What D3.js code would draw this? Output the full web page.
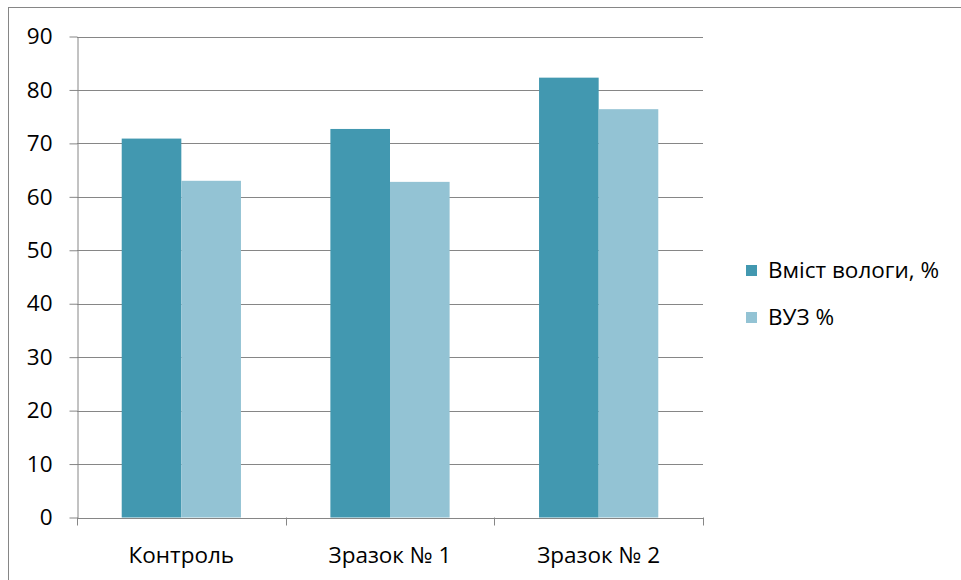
<!DOCTYPE html>
<html><head><meta charset="utf-8">
<script src="https://cdn.jsdelivr.net/npm/d3@7"></script>
<style>body{margin:0;background:#fff}svg{display:block}text{font-family:"Open Sans",sans-serif;fill:#000}</style>
</head><body><svg id="c" width="961" height="580"></svg>
<script>
const categories = ["Контроль", "Зразок № 1", "Зразок № 2"];
const seriesNames = ["Вміст вологи, %", "ВУЗ %"];
const moisture = [70.9, 72.7, 82.3];
const vuz = [63.0, 62.8, 76.4];
const yTicks = [0, 10, 20, 30, 40, 50, 60, 70, 80, 90];
const colors = ["#4298b0", "#93c3d4"];

const svg = d3.select("#c");
const mLeft = 77, mRight = 703, mTop = 36.5, mBottom = 517.5;
const fs = "22.5px";
svg.append("rect").attr("x", 8.5).attr("y", 7.5).attr("width", 1000).attr("height", 1000)
  .attr("fill", "none").attr("stroke", "#868686").attr("stroke-width", 1);

const x = d3.scaleBand().domain(categories).range([mLeft, mRight]).padding(0);
const y = d3.scaleLinear().domain([0, 90]).range([mBottom, mTop]);
const bw = x.bandwidth() / 3.5;
const series = [moisture, vuz];

// gridlines
svg.append("g").selectAll("line").data(yTicks.filter(d => d > 0)).join("line")
  .attr("x1", mLeft).attr("x2", mRight)
  .attr("y1", d => Math.round(y(d)) + 0.5).attr("y2", d => Math.round(y(d)) + 0.5)
  .attr("stroke", "#868686").attr("stroke-width", 1.2);

// bars
series.forEach((vals, si) => {
  svg.append("g").selectAll("rect").data(categories).join("rect")
    .attr("x", (c) => x(c) + x.bandwidth() / 2 - bw + si * bw)
    .attr("width", bw)
    .attr("y", (c, i) => y(vals[i]))
    .attr("height", (c, i) => y(0) - y(vals[i]))
    .attr("fill", colors[si]);
});

// y axis
const yAxis = svg.append("g").attr("transform", `translate(${mLeft + 0.5},0)`)
  .call(d3.axisLeft(y).tickValues(yTicks).tickSize(8).tickPadding(17).tickSizeOuter(0));
yAxis.select(".domain").attr("stroke", "#868686");
yAxis.selectAll(".tick line").attr("stroke", "#868686");
yAxis.selectAll("text").style("font-size", fs).attr("fill", "#000");

// x axis
const xAxis = svg.append("g").attr("transform", `translate(0,${mBottom + 0.5})`)
  .call(d3.axisBottom(x).tickSize(0).tickPadding(29));
xAxis.select(".domain").attr("stroke", "#868686");
xAxis.selectAll("text").style("font-size", fs).attr("fill", "#000");
const xt = [mLeft, ...categories.map(c => x(c) + x.bandwidth())];
svg.append("g").selectAll("line").data(xt).join("line")
  .attr("x1", d => Math.round(d) + 0.5).attr("x2", d => Math.round(d) + 0.5)
  .attr("y1", mBottom).attr("y2", mBottom + 8).attr("stroke", "#868686");

// legend
const lg = svg.append("g").selectAll("g").data(seriesNames).join("g")
  .attr("transform", (d, i) => `translate(746,${265 + i * 47})`);
lg.append("rect").attr("width", 11).attr("height", 11).attr("fill", (d, i) => colors[i]);
lg.append("text").attr("x", 22).attr("y", 13).style("font-size", fs).text(d => d);
</script></body></html>
